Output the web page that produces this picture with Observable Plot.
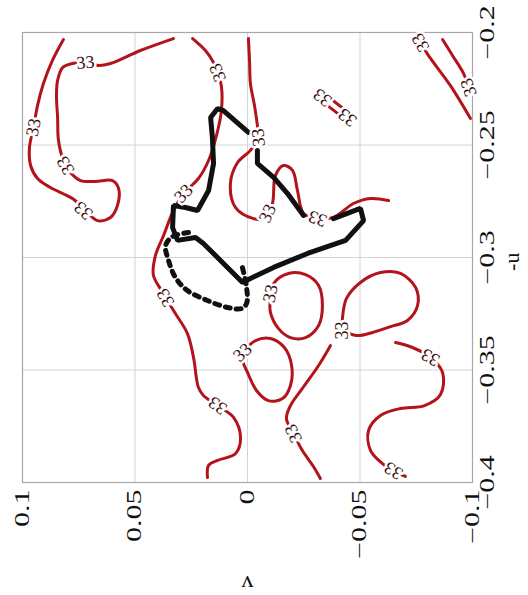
<!DOCTYPE html>
<html><head><meta charset="utf-8">
<script src="https://cdn.jsdelivr.net/npm/d3@7"></script>
<script src="https://cdn.jsdelivr.net/npm/@observablehq/plot@0.6"></script>
<style>body{margin:0;background:#fff}</style>
</head><body><div id="chart"></div>
<script>
// axis ticks
const vTicks = [0.1, 0.05, 0, -0.05, -0.1];
const uTicks = [-0.2, -0.25, -0.3, -0.35, -0.4];
const vGrid = [0.05, 0, -0.05];
const uGrid = [-0.25, -0.3, -0.35];
const contourLevel = "33";

// red contour lines (v, -u)
const cA_v = [0.0818,0.0867,0.0907,0.0933,0.0951,0.0969,0.0964,0.0933,0.0876,0.0778,0.072,0.0667,0.0609,0.0578,0.0573,0.06,0.0676,0.0742,0.0787,0.0818,0.084,0.0844,0.0849,0.0844,0.0822,0.0778,0.072,0.0662,0.0609,0.0476,0.0329];
const cA_u = [-0.2031,-0.2124,-0.2227,-0.2324,-0.2422,-0.2511,-0.2591,-0.2649,-0.2689,-0.2738,-0.2791,-0.2836,-0.2822,-0.2769,-0.2693,-0.2658,-0.2662,-0.2658,-0.2622,-0.2569,-0.248,-0.2378,-0.228,-0.2213,-0.2156,-0.2138,-0.2133,-0.2147,-0.2138,-0.208,-0.2027];
const cB_v = [0.0244,0.0187,0.0151,0.0133,0.0116,0.0116,0.0138,0.0173,0.0218,0.0262,0.0284,0.0329,0.0373,0.0409,0.0418,0.0373,0.0329,0.0267,0.024,0.0218,0.0196,0.0133,0.0062,0.0031,0.0053,0.0133,0.0173,0.0178];
const cB_u = [-0.2027,-0.208,-0.2133,-0.2178,-0.224,-0.2347,-0.2458,-0.2569,-0.2649,-0.2693,-0.2716,-0.2791,-0.2902,-0.2991,-0.308,-0.316,-0.3236,-0.3338,-0.3444,-0.3578,-0.3613,-0.3658,-0.3711,-0.38,-0.3871,-0.3902,-0.3924,-0.3978];
const cC_v = [-0.0004,-0.0009,-0.0013,-0.0031,-0.0044,-0.0049,-0.0013,0.0044,0.0076,0.0053,-0.0027,-0.008,-0.0111,-0.0124,-0.016,-0.02,-0.0222,-0.0249,-0.0311,-0.0382,-0.0471,-0.0547,-0.0627];
const cC_u = [-0.2027,-0.2124,-0.2227,-0.2324,-0.2413,-0.2467,-0.2524,-0.2578,-0.2671,-0.2778,-0.2827,-0.2827,-0.276,-0.2636,-0.2591,-0.2613,-0.2702,-0.2804,-0.2827,-0.2822,-0.276,-0.2738,-0.2747];
const cD_v = [-0.0102,-0.0116,-0.0182,-0.0258,-0.0316,-0.0333,-0.0316,-0.0258,-0.0191,-0.0138,-0.0102,-0.0102];
const cD_u = [-0.3182,-0.3116,-0.3071,-0.3076,-0.3124,-0.3213,-0.3302,-0.3356,-0.3356,-0.3316,-0.3244,-0.3182];
const cE_v = [0.0022,-0.0036,-0.0102,-0.0164,-0.0196,-0.0191,-0.0156,-0.0093,-0.004,0.0,0.0022,0.0022];
const cE_u = [-0.3422,-0.3369,-0.336,-0.34,-0.348,-0.3569,-0.3627,-0.3636,-0.3591,-0.3511,-0.3458,-0.3422];
const cG_v = [-0.0422,-0.0422,-0.044,-0.0502,-0.0591,-0.068,-0.0747,-0.0756,-0.0711,-0.0636,-0.0556,-0.0484,-0.0422];
const cG_u = [-0.3324,-0.3271,-0.3182,-0.3111,-0.3067,-0.3071,-0.3133,-0.3213,-0.328,-0.3307,-0.3333,-0.3347,-0.3324];
const cH_v = [-0.0369,-0.0316,-0.0244,-0.0191,-0.0173,-0.0204,-0.0244,-0.0293,-0.0324];
const cH_u = [-0.3391,-0.348,-0.3582,-0.3658,-0.3716,-0.3782,-0.3858,-0.3929,-0.3982];
const cI_v = [-0.0658,-0.0733,-0.0813,-0.0867,-0.0858,-0.0787,-0.068,-0.0591,-0.0538,-0.0547,-0.06,-0.0649,-0.0702];
const cI_u = [-0.3378,-0.34,-0.3444,-0.3511,-0.3609,-0.3658,-0.3671,-0.3702,-0.3769,-0.3858,-0.3916,-0.3947,-0.3973];
const cJ_v = [-0.0769,-0.0804,-0.0902,-0.0991];
const cJ_u = [-0.2044,-0.2102,-0.2236,-0.2382];
const cK_v = [-0.0867,-0.0911,-0.096,-0.0982];
const cK_u = [-0.2031,-0.2102,-0.2182,-0.2244];
const cL1_v = [-0.0333,-0.0436];
const cL1_u = [-0.2307,-0.2387];
const cL2_v = [-0.0347,-0.0453];
const cL2_u = [-0.2276,-0.236];

// contour label positions, per contour
const labA_v = [0.0951,0.0729,0.0809,0.072];
const labA_u = [-0.2422,-0.2791,-0.2591,-0.2133];
const labB_v = [0.0133,0.0284,0.0364,0.0133];
const labB_u = [-0.2178,-0.2716,-0.3178,-0.3658];
const labC_v = [-0.0049,-0.0089,-0.0311];
const labC_u = [-0.2467,-0.2804,-0.2827];
const labD_v = [-0.0102], labD_u = [-0.316];
const labE_v = [0.0022], labE_u = [-0.3422];
const labG_v = [-0.0422], labG_u = [-0.3324];
const labH_v = [-0.0204], labH_u = [-0.3782];
const labI_v = [-0.0813,-0.0649], labI_u = [-0.3444,-0.3947];
const labJ_v = [-0.0769], labJ_u = [-0.2044];
const labK_v = [-0.0982], labK_u = [-0.2244];
const labL1_v = [-0.0333], labL1_u = [-0.2289];
const labL2_v = [-0.0444], labL2_u = [-0.2378];

// black boundary (solid) and dotted boundary
const bk1_v = [-0.0382,-0.0502,-0.0516,-0.0436,-0.0267,-0.0116,-0.0013,0.0022,0.012,0.0196,0.0231,0.0311,0.0333,0.0329,0.0276,0.0222,0.0173,0.0151,0.0156,0.0164,0.0133,0.0107,-0.0004];
const bk1_u = [-0.2827,-0.2782,-0.2836,-0.2924,-0.2982,-0.3044,-0.3093,-0.3111,-0.3013,-0.2938,-0.2911,-0.2924,-0.2867,-0.2769,-0.2778,-0.2791,-0.2702,-0.2582,-0.2467,-0.2378,-0.2338,-0.2347,-0.2444];
const bk2_v = [-0.0044,-0.0044,-0.0116,-0.0178,-0.0249];
const bk2_u = [-0.2524,-0.2582,-0.2644,-0.2716,-0.2813];
const dot_v = [0.0262,0.0333,0.0364,0.0351,0.032,0.0267,0.0178,0.0089,0.0027,0.0004,0.0004,0.0027];
const dot_u = [-0.2889,-0.2907,-0.2947,-0.3013,-0.3089,-0.3147,-0.3191,-0.3222,-0.3227,-0.3204,-0.3133,-0.3027];

const contours = [
  ["A",cA_v,cA_u,labA_v,labA_u],["B",cB_v,cB_u,labB_v,labB_u],["C",cC_v,cC_u,labC_v,labC_u],
  ["D",cD_v,cD_u,labD_v,labD_u],["E",cE_v,cE_u,labE_v,labE_u],["G",cG_v,cG_u,labG_v,labG_u],
  ["H",cH_v,cH_u,labH_v,labH_u],["I",cI_v,cI_u,labI_v,labI_u],["J",cJ_v,cJ_u,labJ_v,labJ_u],
  ["K",cK_v,cK_u,labK_v,labK_u],["L1",cL1_v,cL1_u,labL1_v,labL1_u],["L2",cL2_v,cL2_u,labL2_v,labL2_u]
];

const W = 528, H = 595, mL = 22, mR = 56, mT = 32, mB = 113;
const px = d3.scaleLinear([0.1,-0.1],[mL, W-mR]);
const py = d3.scaleLinear([-0.4,-0.2],[H-mB, mT]);

const lineRows = [], labelRows = [];
for (const [id, vs, us, lv, lu] of contours) {
  vs.forEach((v,i) => lineRows.push({id, v, u: us[i]}));
  lv.forEach((v,j) => {
    const u = lu[j];
    const X0 = px(v), Y0 = py(u);
    let best = Infinity, ang = 0;
    for (let i = 0; i < vs.length-1; i++) {
      const x1 = px(vs[i]), y1 = py(us[i]), x2 = px(vs[i+1]), y2 = py(us[i+1]);
      const dx = x2-x1, dy = y2-y1, L2 = dx*dx+dy*dy || 1;
      let t = ((X0-x1)*dx+(Y0-y1)*dy)/L2; t = Math.max(0, Math.min(1, t));
      const d = Math.hypot(x1+t*dx-X0, y1+t*dy-Y0);
      if (d < best) { best = d; ang = Math.atan2(dy, dx)*180/Math.PI; }
    }
    while (ang > 0) ang -= 180;
    while (ang <= -180) ang += 180;
    labelRows.push({v, u, angle: ang});
  });
}
const blackRows = [];
bk1_v.forEach((v,i)=>blackRows.push({id:"b1", v, u: bk1_u[i]}));
bk2_v.forEach((v,i)=>blackRows.push({id:"b2", v, u: bk2_u[i]}));
const dotRows = dot_v.map((v,i)=>({v, u: dot_u[i]}));

const fmt = d3.format("");
const font = "Liberation Serif, Times New Roman, serif";

const chart = Plot.plot({
  width: W, height: H,
  marginLeft: mL, marginRight: mR, marginTop: mT, marginBottom: mB,
  style: {fontFamily: font, background: "white"},
  x: {domain: [0.1, -0.1], axis: null},
  y: {domain: [-0.4, -0.2], axis: null},
  marks: [
    Plot.gridX(vGrid, {stroke: "#d4d4d4", strokeOpacity: 1, strokeWidth: 1}),
    Plot.gridY(uGrid, {stroke: "#d4d4d4", strokeOpacity: 1, strokeWidth: 1}),
    Plot.frame({stroke: "#a8a8a8", strokeWidth: 1.2}),
    Plot.line(lineRows, {x: "v", y: "u", z: "id", stroke: "#b3131b", strokeWidth: 3, curve: "catmull-rom"}),
    Plot.line(blackRows, {x: "v", y: "u", z: "id", stroke: "#111", strokeWidth: 5, strokeLinejoin: "miter"}),
    Plot.line(dotRows, {x: "v", y: "u", stroke: "#111", strokeWidth: 5, strokeDasharray: "5,6", curve: "catmull-rom"}),
    Plot.text(labelRows, {x: "v", y: "u", text: () => contourLevel, rotate: "angle", fontSize: 18,
      fill: "#3a0c0c", stroke: "white", strokeWidth: 5, fontFamily: font}),
    Plot.text(vTicks, {x: d => d, frameAnchor: "bottom", dy: 7, text: d => fmt(d), rotate: -90,
      textAnchor: "end", lineAnchor: "middle", fontSize: 20, fill: "#111", fontFamily: font, className: "tk"}),
    Plot.text(uTicks, {y: d => d, frameAnchor: "right", dx: 15, text: d => fmt(d), rotate: -90,
      textAnchor: "middle", lineAnchor: "middle", fontSize: 20, fill: "#111", fontFamily: font, className: "tk"}),
    Plot.text(["v"], {x: 0, frameAnchor: "bottom", dy: 93, text: d => d, rotate: 180, fontSize: 24, fill: "#111", fontFamily: font}),
    Plot.text(["-u"], {y: -0.2978, frameAnchor: "right", dx: 39, text: d => d, rotate: -90, fontSize: 22, fill: "#111", fontFamily: font})
  ]
});
d3.select(chart).selectAll(".tk text").each(function() {
  const t = this.getAttribute("transform");
  if (t) this.setAttribute("transform", t + " scale(1.5,1)");
});
document.getElementById("chart").appendChild(chart);
</script>
</body></html>
